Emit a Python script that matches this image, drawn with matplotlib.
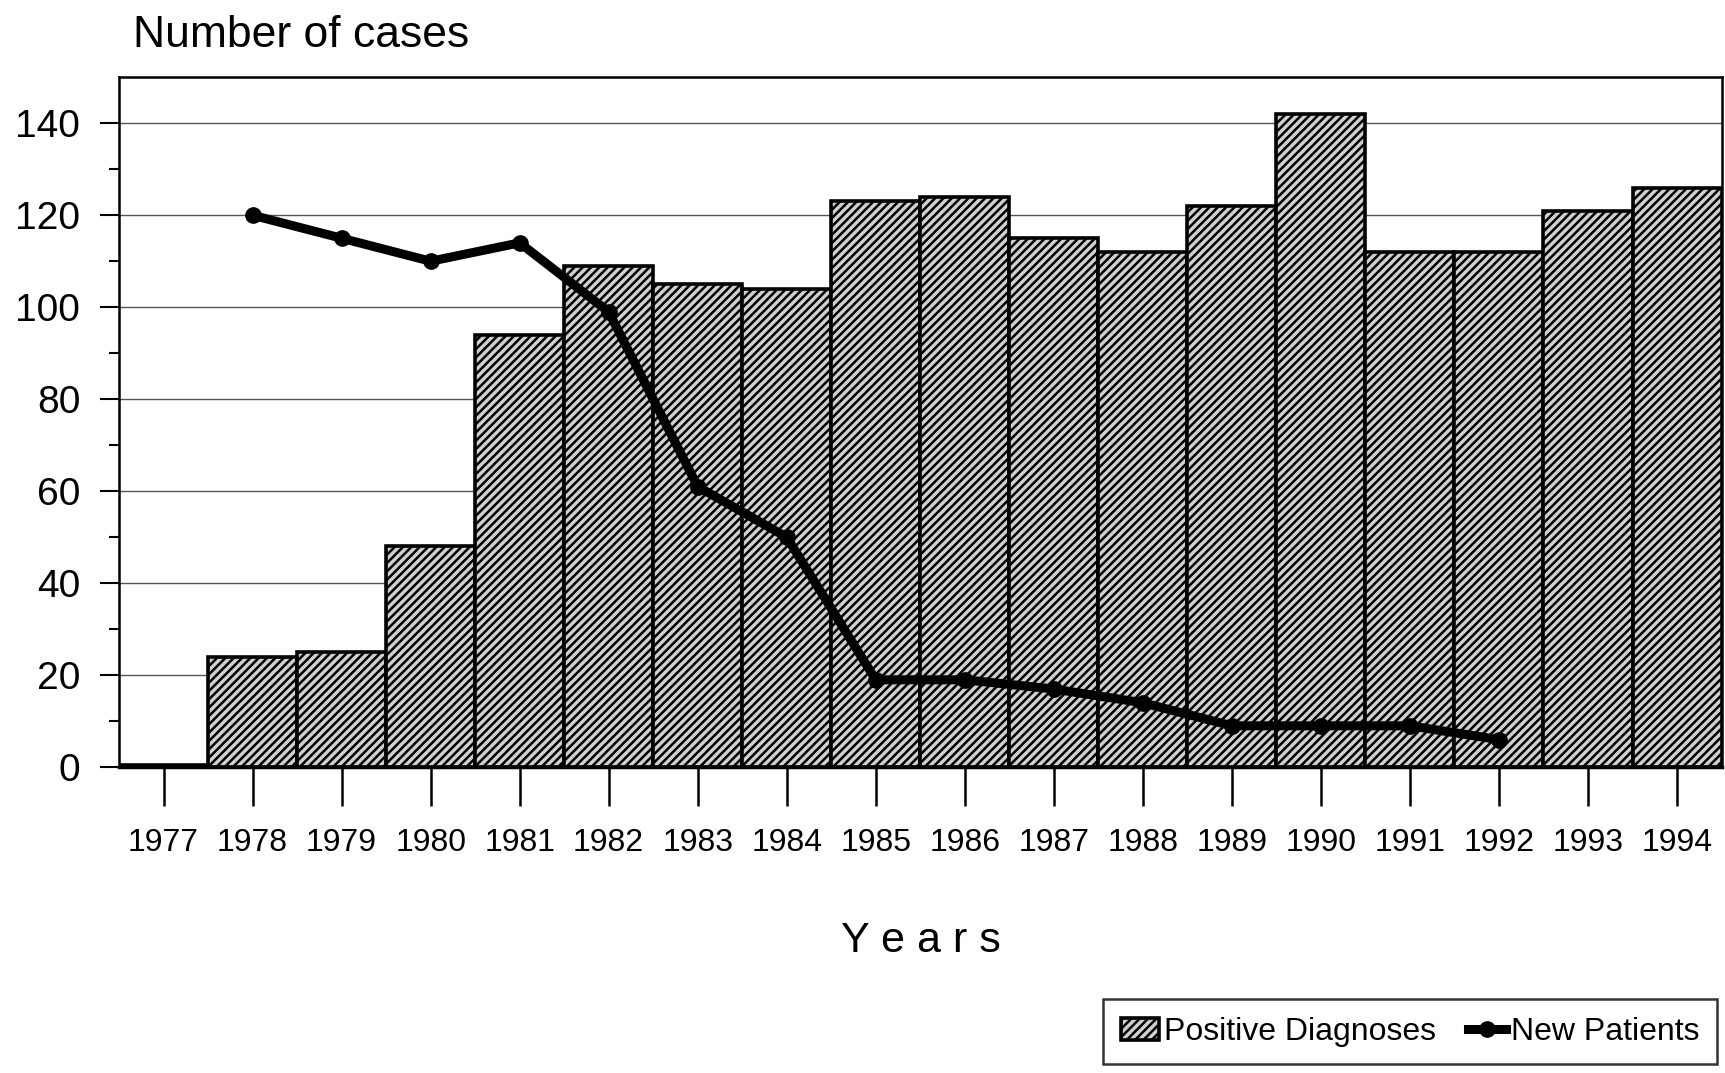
import matplotlib
matplotlib.use("Agg")
import matplotlib.pyplot as plt
import numpy as np

# Data
years = [1977, 1978, 1979, 1980, 1981, 1982, 1983, 1984, 1985, 1986,
         1987, 1988, 1989, 1990, 1991, 1992, 1993, 1994]
positive_diagnoses = [0.5, 24, 25, 48, 94, 109, 105, 104, 123, 124,
                      115, 112, 122, 142, 112, 112, 121, 126]
patient_years = [1978, 1979, 1980, 1981, 1982, 1983, 1984, 1985,
                 1986, 1987, 1988, 1989, 1990, 1991, 1992]
new_patients = [120, 115, 110, 114, 99, 61, 50, 19, 19, 17, 14, 9, 9, 9, 6]

plt.rcParams["font.family"] = ["Liberation Sans", "DejaVu Sans"]
plt.rcParams["hatch.linewidth"] = 1.8

fig = plt.figure(figsize=(17.25, 10.73), dpi=100, facecolor="white")
ax = fig.add_axes([0.069, 0.285, 0.929, 0.643])

x = np.arange(len(years))
px = [years.index(y) for y in patient_years]

# Bars
bars = ax.bar(x, positive_diagnoses, width=1.0, facecolor="#d0d0d0", edgecolor="black",
              hatch="////", linewidth=2.6, zorder=2, label="Positive Diagnoses")

# Line
line, = ax.plot(px, new_patients, color="black", linewidth=6.5, marker="o", markersize=11,
                zorder=3, label="New Patients")

# Gridlines
ax.set_axisbelow(True)
ax.yaxis.grid(True, color="#555555", linewidth=1.0, zorder=0)

# Axes limits and ticks
ax.set_xlim(-0.5, len(years) - 0.5)
ax.set_ylim(0, 150)
ax.set_yticks(range(0, 141, 20))
ax.set_yticks(range(0, 141, 10), minor=True)
ax.set_xticks(x)
ax.set_xticklabels([str(y) for y in years])

ax.tick_params(axis="y", which="major", labelsize=28, length=14, width=1.5, pad=14)
ax.tick_params(axis="y", which="minor", length=7, width=1.5)
ax.tick_params(axis="x", which="major", labelsize=23, length=28, width=1.8, pad=16)

for side in ["top", "right", "left", "bottom"]:
    ax.spines[side].set_linewidth(1.8)
ax.spines["bottom"].set_linewidth(2.5)

# Labels
fig.text(0.077, 0.967, "Number of cases", fontsize=32, ha="left", va="center")
fig.text(0.534, 0.123, "Y e a r s", fontsize=31, ha="center", va="center")

# Legend
leg = fig.legend([bars, line], ["Positive Diagnoses", "New Patients"],
                 loc="lower right", bbox_to_anchor=(0.999, 0.002), ncol=2,
                 fontsize=23, frameon=True, fancybox=False, edgecolor="black",
                 handlelength=1.2, handletextpad=0.15, columnspacing=1.0,
                 borderpad=0.55, borderaxespad=0.2)
leg.get_frame().set_linewidth(1.8)

fig.savefig("out.png", dpi=100, facecolor="white")
